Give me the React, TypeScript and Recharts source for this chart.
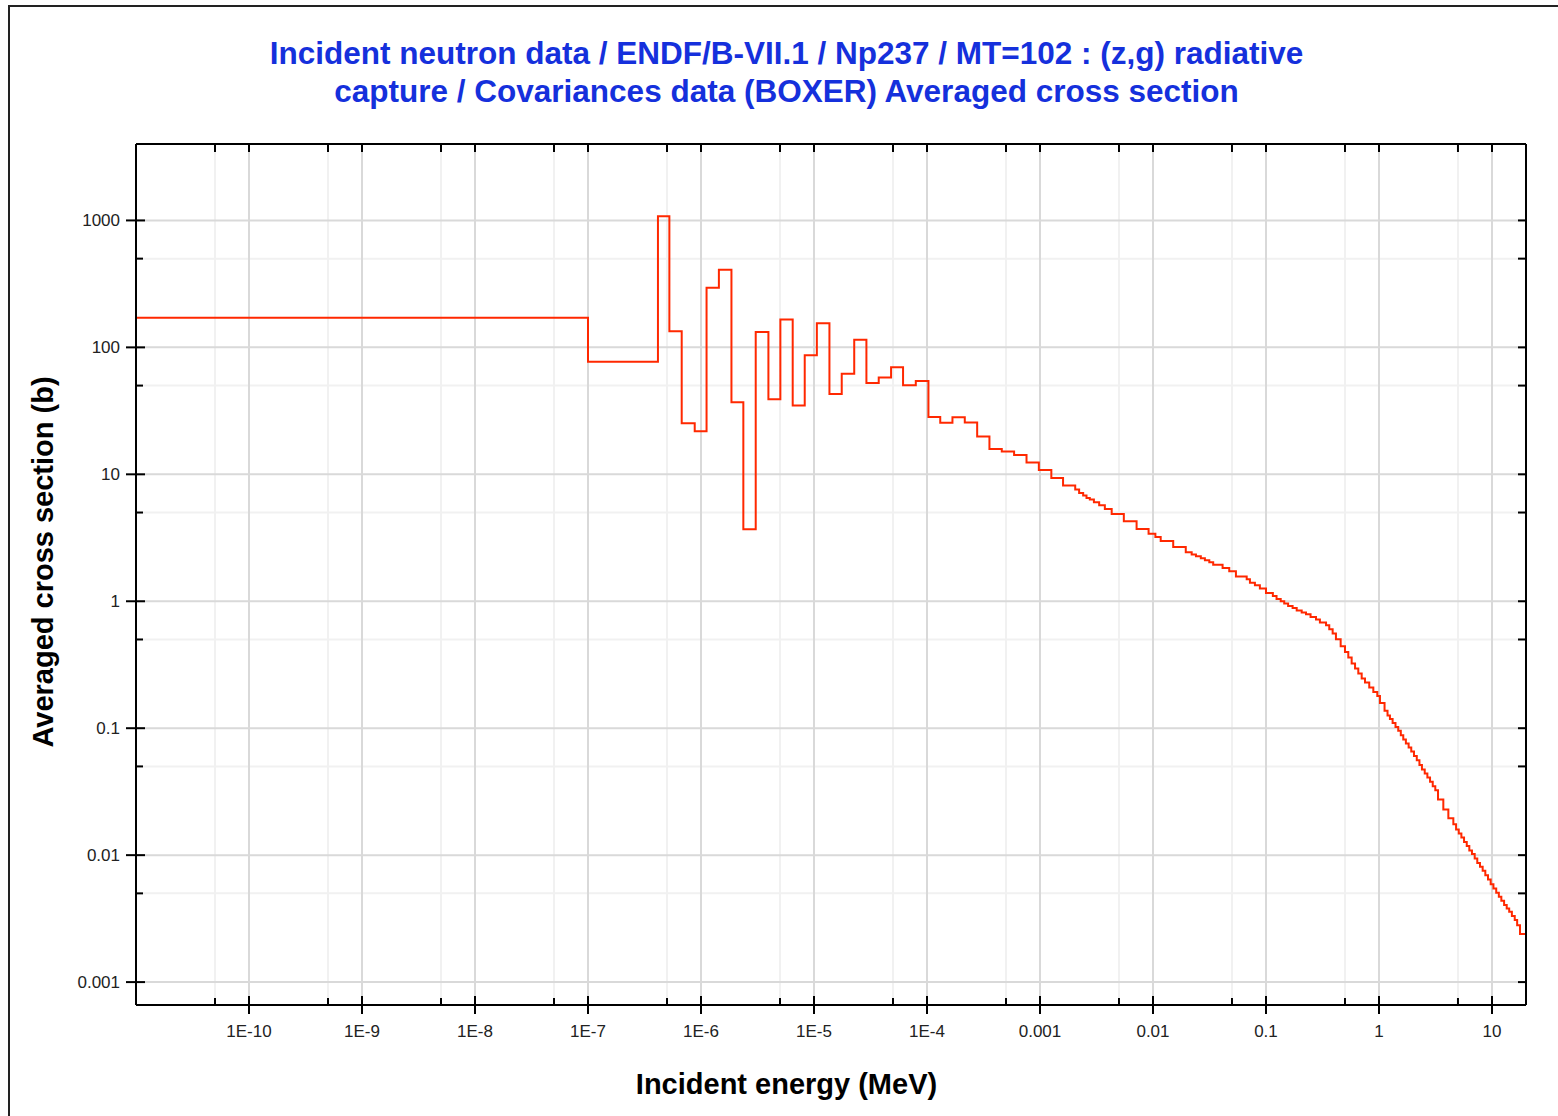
import { Line, LineChart, ReferenceLine, XAxis, YAxis } from 'recharts';

// resolved resonance region: lower group edges (MeV) and averaged cross section (b)
const resonanceEdges = [
  1e-11, 1e-7, 4.16e-7, 5.25e-7, 6.75e-7, 8.8e-7, 1.12e-6, 1.44e-6, 1.86e-6, 2.37e-6,
  3.05e-6, 3.95e-6, 5.04e-6, 6.48e-6, 8.28e-6, 1.06e-5, 1.37e-5, 1.76e-5, 2.27e-5, 2.91e-5,
  3.74e-5, 4.81e-5, 6.14e-5, 7.96e-5, 1.03e-4, 1.31e-4, 1.68e-4, 2.16e-4, 2.78e-4, 3.57e-4,
  4.59e-4, 5.9e-4, 7.6e-4, 9.77e-4, 1.26e-3, 1.6e-3, 2.05e-3,
];
const resonanceXs = [
  171, 77, 1080, 134, 25.2, 21.8, 295, 409, 36.9, 3.69,
  132, 39, 166, 34.9, 86.5, 155, 42.9, 62, 115, 52.3,
  58, 69.6, 50.2, 54.3, 28.3, 25.5, 28.2, 25.6, 19.9, 15.8,
  15.1, 14.2, 12.4, 10.8, 9.35, 8.15, 7.58,
];

// unresolved / fast region
const continuumEdges = [
  2.22e-3, 2.41e-3, 2.58e-3, 2.76e-3, 3.0e-3, 3.34e-3, 3.75e-3, 4.31e-3, 5.52e-3, 7.16e-3,
  9.14e-3, 1.05e-2, 1.17e-2, 1.51e-2, 1.95e-2, 2.2e-2, 2.4e-2, 2.65e-2, 2.88e-2, 3.15e-2,
  3.41e-2, 4.13e-2, 4.73e-2, 5.42e-2, 6.75e-2, 7.21e-2, 7.98e-2, 8.83e-2, 0.1, 0.115,
  0.124, 0.135, 0.145, 0.157, 0.172, 0.187, 0.207, 0.226, 0.248, 0.277,
  0.3, 0.34, 0.363, 0.389, 0.416, 0.458, 0.5, 0.535, 0.573, 0.614,
  0.656, 0.703, 0.752, 0.82, 0.891, 0.966, 1.02, 1.12, 1.19, 1.25,
  1.32, 1.4, 1.48, 1.56, 1.64, 1.73, 1.83, 1.93, 2.04, 2.16,
  2.28, 2.4, 2.54, 2.68, 2.83, 2.99, 3.15, 3.33, 3.71, 4.11,
  4.55, 4.81, 5.08, 5.36, 5.66, 5.98, 6.3, 6.65, 7.03, 7.41,
  7.83, 8.27, 8.73, 9.22, 9.74, 10.3, 10.9, 11.5, 12.1, 12.8,
  13.5, 14.2, 15.0, 15.9, 16.7, 17.7,
];
const continuumXs = [
  7.13, 6.8, 6.51, 6.32, 6.02, 5.7, 5.33, 4.87, 4.26, 3.71,
  3.41, 3.21, 2.98, 2.68, 2.43, 2.34, 2.26, 2.18, 2.1, 2.03,
  1.94, 1.83, 1.72, 1.57, 1.49, 1.4, 1.34, 1.26, 1.16, 1.1,
  1.04, 1.0, 0.96, 0.918, 0.885, 0.845, 0.815, 0.791, 0.752, 0.718,
  0.679, 0.647, 0.602, 0.557, 0.502, 0.443, 0.399, 0.36, 0.323, 0.295,
  0.27, 0.246, 0.229, 0.209, 0.193, 0.179, 0.158, 0.137, 0.126, 0.118,
  0.11, 0.102, 0.0953, 0.0881, 0.0815, 0.0758, 0.0705, 0.0656, 0.0605, 0.056,
  0.0512, 0.0473, 0.044, 0.0409, 0.0378, 0.0349, 0.0325, 0.0275, 0.0229, 0.0195,
  0.0175, 0.0159, 0.0148, 0.0138, 0.0127, 0.0118, 0.0109, 0.0102, 0.00942, 0.00869,
  0.00809, 0.00752, 0.00696, 0.00644, 0.00591, 0.00547, 0.00505, 0.0047, 0.00437, 0.00404,
  0.0038, 0.00358, 0.00331, 0.00308, 0.00281, 0.00239,
];
const upperEdge = 20;

const xDomain = [1e-11, 20];
const yDomain = [6.6e-4, 4000];

const xMajor = [1e-10, 1e-9, 1e-8, 1e-7, 1e-6, 1e-5, 1e-4, 1e-3, 1e-2, 0.1, 1, 10];
const xLabels = ['1E-10', '1E-9', '1E-8', '1E-7', '1E-6', '1E-5', '1E-4', '0.001', '0.01', '0.1', '1', '10'];
const xMinor = [5e-11, 5e-10, 5e-9, 5e-8, 5e-7, 5e-6, 5e-5, 5e-4, 5e-3, 0.05, 0.5, 5];

const yMajor = [0.001, 0.01, 0.1, 1, 10, 100, 1000];
const yLabels = ['0.001', '0.01', '0.1', '1', '10', '100', '1000'];
const yMinor = [0.005, 0.05, 0.5, 5, 50, 500];

const edges = [...resonanceEdges, ...continuumEdges];
const values = [...resonanceXs, ...continuumXs];
const data = edges
  .map((e, i) => ({ e, xs: values[i] }))
  .concat({ e: upperEdge, xs: values[values.length - 1] });

const FONT = '"Liberation Sans", Arial, Helvetica, sans-serif';

function majorIndex(list: number[], v: number) {
  return list.findIndex((m) => Math.abs(Math.log10(m) - Math.log10(v)) < 1e-6);
}

function BottomTick({ x, y, payload }: any) {
  const i = majorIndex(xMajor, payload.value);
  const major = i >= 0;
  return (
    <g>
      <line x1={x} x2={x} y1={y - (major ? 9 : 7)} y2={major ? y + 9 : y} stroke="#000" strokeWidth={2} />
      {major && (
        <text x={x} y={y + 32} textAnchor="middle" fontSize={17} fontFamily={FONT} fill="#222">
          {xLabels[i]}
        </text>
      )}
    </g>
  );
}

function TopTick({ x, y }: any) {
  return <line x1={x} x2={x} y1={y} y2={y + 8} stroke="#000" strokeWidth={2} />;
}

function LeftTick({ x, y, payload }: any) {
  const i = majorIndex(yMajor, payload.value);
  const major = i >= 0;
  return (
    <g>
      <line x1={major ? x - 10 : x} x2={x + (major ? 9 : 7)} y1={y} y2={y} stroke="#000" strokeWidth={2} />
      {major && (
        <text x={x - 16} y={y + 6} textAnchor="end" fontSize={17} fontFamily={FONT} fill="#222">
          {yLabels[i]}
        </text>
      )}
    </g>
  );
}

function RightTick({ x, y }: any) {
  return <line x1={x - 8} x2={x} y1={y} y2={y} stroke="#000" strokeWidth={2} />;
}

export default function App() {
  return (
    <div style={{ position: 'absolute', left: 0, top: 0, width: 1558, height: 1116, overflow: 'hidden', background: '#fff', fontFamily: FONT }}>
      <div style={{ position: 'absolute', left: 8, top: 5, width: 1600, height: 1200, borderTop: '2px solid #222', borderLeft: '2px solid #222' }} />
      <div
        style={{
          position: 'absolute', left: 0, top: 34, width: 1573, textAlign: 'center',
          color: '#1530dc', fontWeight: 700, fontSize: 31.5, lineHeight: '38px', whiteSpace: 'nowrap',
        }}
      >
        Incident neutron data / ENDF/B-VII.1 / Np237 / MT=102 : (z,g) radiative
        <br />
        capture / Covariances data (BOXER) Averaged cross section
      </div>
      <div style={{ position: 'absolute', left: 0, top: 1068, width: 1573, textAlign: 'center', fontWeight: 700, fontSize: 29, color: '#000' }}>
        Incident energy (MeV)
      </div>
      <div style={{ position: 'absolute', left: 43, top: 562, width: 0, height: 0 }}>
        <div
          style={{
            position: 'absolute', left: -250, top: -18, width: 500, textAlign: 'center', transform: 'rotate(-90deg)',
            fontWeight: 700, fontSize: 29, color: '#000', whiteSpace: 'nowrap', lineHeight: '36px',
          }}
        >
          Averaged cross section (b)
        </div>
      </div>
      <div style={{ position: 'absolute', left: 0, top: 0 }}>
        <LineChart width={1558} height={1116} data={data} margin={{ top: 124, right: 12, bottom: 51, left: 76 }}>
          <XAxis
            xAxisId="x"
            dataKey="e"
            type="number"
            scale="log"
            domain={xDomain}
            allowDataOverflow
            ticks={[...xMajor, ...xMinor]}
            interval={0}
            height={60}
            tickSize={0}
            tickMargin={0}
            tickLine={false}
            tick={<BottomTick />}
            axisLine={{ stroke: '#000', strokeWidth: 2 }}
          />
          <XAxis
            xAxisId="xt"
            orientation="top"
            dataKey="e"
            type="number"
            scale="log"
            domain={xDomain}
            allowDataOverflow
            ticks={[...xMajor, ...xMinor]}
            interval={0}
            height={20}
            tickSize={0}
            tickMargin={0}
            tickLine={false}
            tick={<TopTick />}
            axisLine={{ stroke: '#000', strokeWidth: 2 }}
          />
          <YAxis
            yAxisId="y"
            type="number"
            scale="log"
            domain={yDomain}
            allowDataOverflow
            ticks={[...yMajor, ...yMinor]}
            interval={0}
            width={60}
            tickSize={0}
            tickMargin={0}
            tickLine={false}
            tick={<LeftTick />}
            axisLine={{ stroke: '#000', strokeWidth: 2 }}
          />
          <YAxis
            yAxisId="yr"
            orientation="right"
            type="number"
            scale="log"
            domain={yDomain}
            allowDataOverflow
            ticks={[...yMajor, ...yMinor]}
            interval={0}
            width={20}
            tickSize={0}
            tickMargin={0}
            tickLine={false}
            tick={<RightTick />}
            axisLine={{ stroke: '#000', strokeWidth: 2 }}
          />
          {xMinor.map((v) => (
            <ReferenceLine key={`xm${v}`} xAxisId="x" yAxisId="y" x={v} stroke="#f1f1f1" strokeWidth={2} />
          ))}
          {yMinor.map((v) => (
            <ReferenceLine key={`ym${v}`} xAxisId="x" yAxisId="y" y={v} stroke="#f1f1f1" strokeWidth={2} />
          ))}
          {xMajor.map((v) => (
            <ReferenceLine key={`xM${v}`} xAxisId="x" yAxisId="y" x={v} stroke="#d9d9d9" strokeWidth={2} />
          ))}
          {yMajor.map((v) => (
            <ReferenceLine key={`yM${v}`} xAxisId="x" yAxisId="y" y={v} stroke="#d9d9d9" strokeWidth={2} />
          ))}
          <Line
            xAxisId="x"
            yAxisId="y"
            type="stepAfter"
            dataKey="xs"
            stroke="#ff2800"
            strokeWidth={2}
            dot={false}
            isAnimationActive={false}
          />
        </LineChart>
      </div>
    </div>
  );
}
